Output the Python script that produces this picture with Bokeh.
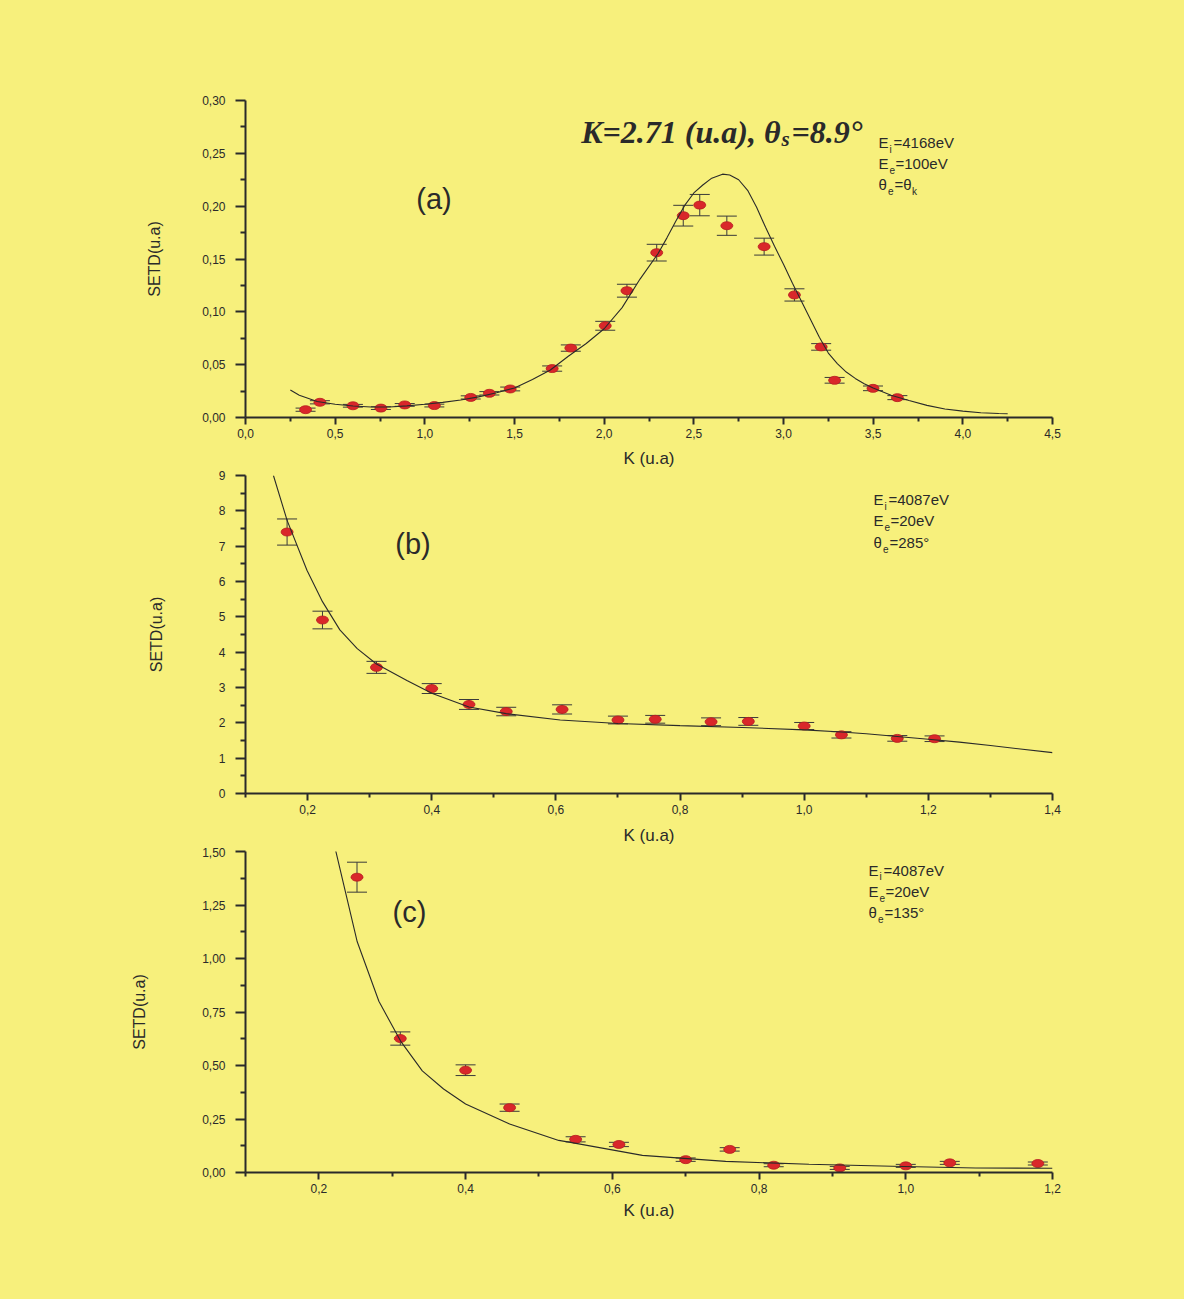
import numpy as np
from bokeh.plotting import figure
from bokeh.layouts import column
from bokeh.models import (Range1d, FixedTicker, CustomJSTickFormatter, Whisker, TeeHead,
                          ColumnDataSource, Label)
from bokeh.embed import file_html
from bokeh.resources import INLINE

# ---------------- data: panel (a) ----------------
a_k = [0.335, 0.415, 0.599, 0.755, 0.888, 1.053, 1.256, 1.360, 1.476, 1.710, 1.814, 2.006,
       2.127, 2.293, 2.441, 2.533, 2.684, 2.892, 3.061, 3.210, 3.285, 3.499, 3.635]
a_setd = [0.0074, 0.0144, 0.0111, 0.0089, 0.0119, 0.0113, 0.0190, 0.0229, 0.0270, 0.0463,
          0.0657, 0.0868, 0.1200, 0.1560, 0.1910, 0.2010, 0.1815, 0.1617, 0.1160, 0.0668,
          0.0352, 0.0276, 0.0188]
a_err = [0.0015, 0.0015, 0.0013, 0.0013, 0.0013, 0.0013, 0.0015, 0.0016, 0.0018, 0.0025,
         0.0030, 0.0042, 0.0061, 0.0079, 0.0098, 0.0101, 0.0091, 0.0080, 0.0058, 0.0031,
         0.0027, 0.0022, 0.0019]
a_fit_k = [0.25, 0.30, 0.40, 0.50, 0.60, 0.70, 0.80, 0.90, 1.00, 1.10, 1.20, 1.30, 1.40, 1.50,
           1.60, 1.70, 1.80, 1.90, 2.00, 2.10, 2.20, 2.30, 2.35, 2.40, 2.45, 2.50, 2.55, 2.60,
           2.66, 2.70, 2.75, 2.80, 2.85, 2.90, 2.95, 3.00, 3.05, 3.10, 3.15, 3.20, 3.25, 3.30,
           3.35, 3.40, 3.45, 3.50, 3.60, 3.70, 3.80, 3.90, 4.00, 4.10, 4.20, 4.25]
a_fit = [0.0260, 0.0210, 0.0152, 0.0125, 0.0109, 0.0100, 0.0100, 0.0110, 0.0125, 0.0143,
         0.0165, 0.0195, 0.0235, 0.0280, 0.0360, 0.0450, 0.0580, 0.0700, 0.0840, 0.1040,
         0.1310, 0.1550, 0.1700, 0.1860, 0.2010, 0.2125, 0.2200, 0.2265, 0.2303, 0.2295,
         0.2250, 0.2150, 0.1990, 0.1800, 0.1620, 0.1450, 0.1270, 0.1100, 0.0930, 0.0760,
         0.0610, 0.0510, 0.0430, 0.0370, 0.0320, 0.0280, 0.0210, 0.0160, 0.0115, 0.0080,
         0.0060, 0.0045, 0.0038, 0.0035]
a_xticks = [0.0, 0.5, 1.0, 1.5, 2.0, 2.5, 3.0, 3.5, 4.0, 4.5]
a_xminor = [0.25, 0.75, 1.25, 1.75, 2.25, 2.75, 3.25, 3.75, 4.25]
a_yticks = [0.0, 0.05, 0.10, 0.15, 0.20, 0.25, 0.30]
a_yminor = [0.025, 0.075, 0.125, 0.175, 0.225, 0.275]

# ---------------- data: panel (b) ----------------
b_k = [0.167, 0.224, 0.311, 0.400, 0.460, 0.520, 0.610, 0.700, 0.760, 0.850, 0.910, 1.000,
       1.060, 1.150, 1.210]
b_setd = [7.40, 4.91, 3.57, 2.97, 2.52, 2.32, 2.38, 2.08, 2.10, 2.03, 2.04, 1.91, 1.66, 1.56, 1.55]
b_err = [0.37, 0.25, 0.17, 0.14, 0.14, 0.12, 0.13, 0.11, 0.11, 0.11, 0.11, 0.10, 0.09, 0.08, 0.08]
b_fit_k = [0.145, 0.167, 0.199, 0.224, 0.252, 0.280, 0.311, 0.360, 0.401, 0.460, 0.520, 0.607,
           0.700, 0.800, 0.900, 1.000, 1.060, 1.100, 1.200, 1.250, 1.300, 1.400]
b_fit = [9.00, 7.73, 6.32, 5.43, 4.63, 4.10, 3.665, 3.20, 2.83, 2.45, 2.26, 2.08, 1.98, 1.92,
         1.87, 1.80, 1.74, 1.69, 1.535, 1.455, 1.357, 1.156]
b_xticks = [0.2, 0.4, 0.6, 0.8, 1.0, 1.2, 1.4]
b_xminor = [0.1, 0.3, 0.5, 0.7, 0.9, 1.1, 1.3]
b_yticks = [0, 1, 2, 3, 4, 5, 6, 7, 8, 9]
b_yminor = [0.5, 1.5, 2.5, 3.5, 4.5, 5.5, 6.5, 7.5, 8.5]

# ---------------- data: panel (c) ----------------
c_k = [0.252, 0.311, 0.400, 0.460, 0.550, 0.609, 0.700, 0.760, 0.820, 0.910, 1.000, 1.060, 1.180]
c_setd = [1.380, 0.626, 0.478, 0.303, 0.155, 0.131, 0.060, 0.108, 0.034, 0.0215, 0.031, 0.045, 0.042]
c_err = [0.070, 0.031, 0.025, 0.017, 0.012, 0.010, 0.008, 0.008, 0.007, 0.007, 0.007, 0.007, 0.007]
c_fit_k = [0.223, 0.2523, 0.2818, 0.3114, 0.341, 0.370, 0.400, 0.460, 0.527, 0.541, 0.609,
           0.641, 0.7545, 0.868, 0.9815, 1.095, 1.200]
c_fit = [1.503, 1.078, 0.800, 0.614, 0.475, 0.390, 0.320, 0.227, 0.150, 0.142, 0.100, 0.080,
         0.052, 0.0385, 0.029, 0.021, 0.020]
c_xticks = [0.2, 0.4, 0.6, 0.8, 1.0, 1.2]
c_xminor = [0.1, 0.3, 0.5, 0.7, 0.9, 1.1]
c_yticks = [0.0, 0.25, 0.50, 0.75, 1.00, 1.25, 1.50]
c_yminor = [0.125, 0.375, 0.625, 0.875, 1.125, 1.375]

# ---------------- styling ----------------
BG = "#f7f07c"
INK = "#2a2a2a"
RED = "#d9272a"
SANS = "Liberation Sans"
SERIF = "Liberation Serif"
W = 1184
FRAME_L, FRAME_R = 245, 1052
LEFT, RIGHT = FRAME_L, W - FRAME_R


class Panel:
    def __init__(self, page_top, height, top, bottom, xr, yr):
        self.page_top = page_top
        self.height = height
        self.top = top
        self.bottom = bottom
        self.xr = xr
        self.yr = yr
        self.f_top = page_top + top
        self.f_bot = page_top + height - bottom

    def dx(self, px):
        return self.xr[0] + (px - FRAME_L) / (FRAME_R - FRAME_L) * (self.xr[1] - self.xr[0])

    def dy(self, py):
        return self.yr[0] + (self.f_bot - py) / (self.f_bot - self.f_top) * (self.yr[1] - self.yr[0])


def make_fig(pn, xt, xm, yt, ym, xdec, ydec, ylab_standoff, xlab_standoff):
    p = figure(width=W, height=pn.height, x_range=Range1d(*pn.xr), y_range=Range1d(*pn.yr),
               output_backend="svg", toolbar_location=None,
               min_border_left=LEFT, min_border_right=RIGHT,
               min_border_top=pn.top, min_border_bottom=pn.bottom,
               background_fill_color=BG, border_fill_color=BG, outline_line_color=None)
    p.grid.visible = False
    xa, ya = p.xaxis[0], p.yaxis[0]
    xa.ticker = FixedTicker(ticks=xt, minor_ticks=xm)
    ya.ticker = FixedTicker(ticks=yt, minor_ticks=ym)
    xa.formatter = CustomJSTickFormatter(code=f"return tick.toFixed({xdec}).replace('.', ',');")
    ya.formatter = CustomJSTickFormatter(code=f"return tick.toFixed({ydec}).replace('.', ',');")
    for ax in (xa, ya):
        ax.axis_line_color = INK
        ax.axis_line_width = 2
        ax.major_tick_line_color = INK
        ax.minor_tick_line_color = INK
        ax.major_tick_line_width = 2
        ax.minor_tick_line_width = 2
        ax.major_tick_in = 0
        ax.minor_tick_in = 0
        ax.major_label_text_font = SANS
        ax.major_label_text_font_size = "12px"
        ax.major_label_text_color = INK
        ax.axis_label_text_font = SANS
        ax.axis_label_text_font_style = "normal"
        ax.axis_label_text_color = INK
    xa.major_tick_out = 7
    xa.minor_tick_out = 4
    xa.major_label_standoff = 4
    xa.axis_label = "K (u.a)"
    xa.axis_label_text_font_size = "17px"
    xa.axis_label_standoff = xlab_standoff
    ya.major_tick_out = 10
    ya.minor_tick_out = 5
    ya.major_label_standoff = 10
    ya.axis_label = "SETD(u.a)"
    ya.axis_label_text_font_size = "16px"
    ya.axis_label_standoff = ylab_standoff
    return p


def add_series(p, k, v, err, fk, fv):
    src = ColumnDataSource(dict(x=k, y=v, lo=[a - e for a, e in zip(v, err)],
                                hi=[a + e for a, e in zip(v, err)]))
    p.ellipse(x="x", y="y", width=12, height=8, width_units="screen", height_units="screen",
              fill_color=RED, line_color="#b51d20", line_width=0.8, source=src)
    p.line(fk, fv, line_color=INK, line_width=1.1)
    p.add_layout(Whisker(base="x", upper="hi", lower="lo", source=src, dimension="height",
                         line_color="#3a3a3a", line_width=1,
                         upper_head=TeeHead(size=20, line_color="#3a3a3a", line_width=1),
                         lower_head=TeeHead(size=20, line_color="#3a3a3a", line_width=1)))


def label(p, x, y, text, size, font=SANS, style="normal", align="left"):
    p.add_layout(Label(x=x, y=y, text=text, text_font=font, text_font_size=f"{size}px",
                       text_font_style=style, text_color=INK, text_align=align,
                       text_baseline="middle"))


def params(p, pn, left, centers, lines):
    for cy, segs in zip(centers, lines):
        for off, txt, sub in segs:
            if sub:
                label(p, pn.dx(left + off), pn.dy(cy + 6.5), txt, 10)
            else:
                label(p, pn.dx(left + off), pn.dy(cy), txt, 15)


# ---------------- panel (a) ----------------
pa = Panel(0, 470, 100, 52, (0.0, 4.5), (0.0, 0.30))
fa = make_fig(pa, a_xticks, a_xminor, a_yticks, a_yminor, 1, 2, 36, 8)
add_series(fa, a_k, a_setd, a_err, a_fit_k, a_fit)
label(fa, pa.dx(433.5), pa.dy(199), "(a)", 29, align="center")
label(fa, pa.dx(780), pa.dy(132), "K=2.71 (u.a), θ", 32, font=SERIF, style="bold italic",
      align="right")
label(fa, pa.dx(781), pa.dy(139), "s", 21, font=SERIF, style="bold italic")
label(fa, pa.dx(791), pa.dy(132), "=8.9°", 32, font=SERIF, style="bold italic")
params(fa, pa, 878, [142.2, 162.8, 184.5],
       [[(0, "E", False), (11, "i", True), (15, "=4168eV", False)],
        [(0, "E", False), (11, "e", True), (17, "=100eV", False)],
        [(0, "θ", False), (9.5, "e", True), (16, "=θ", False), (33.5, "k", True)]])

# ---------------- panel (b) ----------------
pb = Panel(470, 377, 5, 53, (0.1, 1.4), (0.0, 9.0))
fb = make_fig(pb, b_xticks, b_xminor, b_yticks, b_yminor, 1, 0, 51, 9)
add_series(fb, b_k, b_setd, b_err, b_fit_k, b_fit)
label(fb, pb.dx(412.5), pb.dy(544), "(b)", 29, align="center")
params(fb, pb, 873, [499.5, 520.5, 541.8],
       [[(0, "E", False), (11, "i", True), (15, "=4087eV", False)],
        [(0, "E", False), (11, "e", True), (17, "=20eV", False)],
        [(0, "θ", False), (9.5, "e", True), (16, "=285°", False)]])

# ---------------- panel (c) ----------------
pc = Panel(847, 452, 4, 127, (0.1, 1.2), (0.0, 1.5))
fc = make_fig(pc, c_xticks, c_xminor, c_yticks, c_yminor, 1, 2, 51, 5)
add_series(fc, c_k, c_setd, c_err, c_fit_k, c_fit)
label(fc, pc.dx(409), pc.dy(911.5), "(c)", 29, align="center")
params(fc, pc, 868, [869.5, 890.5, 911.8],
       [[(0, "E", False), (11, "i", True), (15, "=4087eV", False)],
        [(0, "E", False), (11, "e", True), (17, "=20eV", False)],
        [(0, "θ", False), (9.5, "e", True), (16, "=135°", False)]])

layout = column(fa, fb, fc, spacing=0, styles={"background-color": BG})
open("out.html", "w").write(file_html(layout, INLINE))
